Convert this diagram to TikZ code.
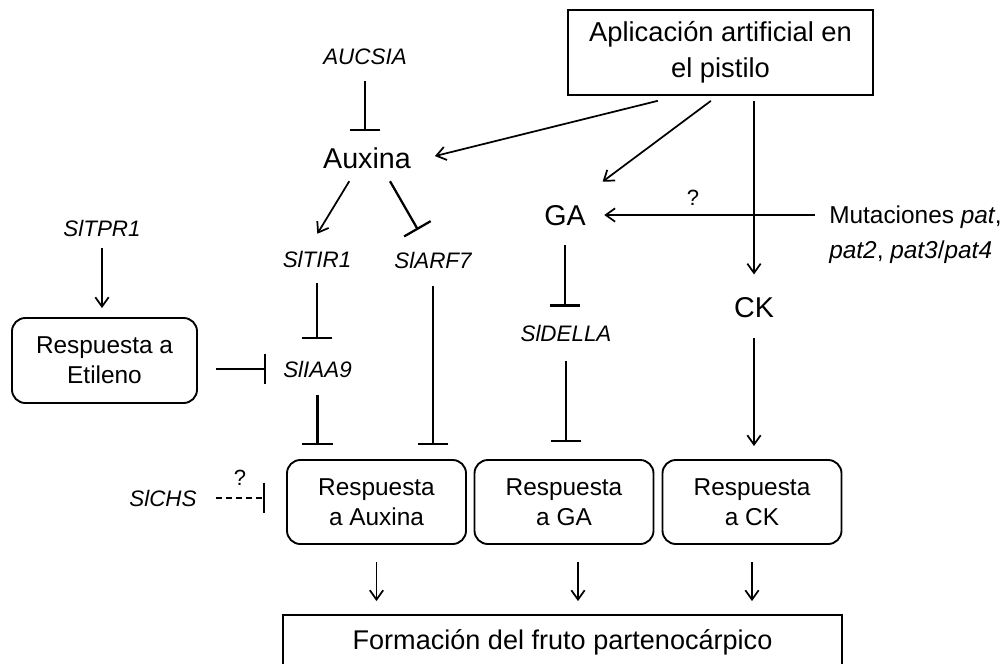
\documentclass[tikz,border=0pt]{standalone}
\usepackage{fontspec}
\setmainfont{Liberation Sans}
\usetikzlibrary{arrows.meta}
\tikzset{
	sqbox/.style  ={rectangle, draw=black, line width=1.4pt, align=center, inner sep=0pt},
	respbox/.style={rectangle, rounded corners=10pt, draw=black, line width=1.4pt, align=center, inner sep=0pt, minimum width=134.25pt, minimum height=63pt, font=\fontsize{18.3}{22.5}\selectfont},
	gene/.style   ={inner sep=0pt, text height=12pt, text depth=0pt, font=\fontsize{16.8}{20}\selectfont\itshape},
	horm/.style   ={inner sep=0pt, text height=15.4pt, text depth=0pt, font=\fontsize{21.5}{26}\selectfont},
	qmark/.style  ={inner sep=0pt, font=\fontsize{16.5}{19}\selectfont},
	act/.style    ={-{Straight Barb[length=7pt, width=10pt]}, line width=1.3pt},
	inh/.style    ={-{Bar[width=23pt, line width=1.7pt]}, line width=1.7pt},
}
\begin{document}
\begin{tikzpicture}[x=0.75pt, y=-0.75pt]
	\useasboundingbox (0,0) rectangle (1005,663);
	\node[sqbox, minimum width=228.75pt, minimum height=63.75pt, font=\fontsize{20.5}{27}\selectfont] (app) at (720.5,52.5) {Aplicación artificial en\\el pistilo};
	\node[gene] (aucsia) at (365,57) {AUCSIA};
	\node[horm] (auxina) at (367,158) {Auxina};
	\node[horm] (ga) at (565,215) {GA};
	\node[horm] (ck) at (754,307) {CK};
	\node[anchor=west, align=left, inner sep=0pt, font=\fontsize{18.3}{26}\selectfont] (mut) at (829,235) {Mutaciones \textit{pat},\\\textit{pat2}, \textit{pat3}/\textit{pat4}};
	\node[gene] (sltpr1) at (102,228) {SlTPR1};
	\node[gene] (sltir1) at (317,259) {SlTIR1};
	\node[gene] (slarf7) at (433,260) {SlARF7};
	\node[respbox, minimum width=138.75pt, minimum height=63.75pt] (etileno) at (104.5,360.5) {Respuesta a\\Etileno};
	\node[gene] (sliaa9) at (317.5,369) {SlIAA9};
	\node[gene] (sldella) at (566,333) {SlDELLA};
	\node[gene] (slchs) at (163,498) {SlCHS};
	\node[respbox] (raux) at (376.5,502) {Respuesta\\a Auxina};
	\node[respbox] (rga) at (564,502) {Respuesta\\a GA};
	\node[respbox] (rck) at (752,502) {Respuesta\\a CK};
	\node[sqbox, minimum width=419.25pt, minimum height=40.5pt, font=\fontsize{20.3}{24}\selectfont] (fruto) at (562.5,642) {Formación del fruto partenocárpico};
	\node[qmark] (q1) at (693,198) {?};
	\node[qmark] (q2) at (240,478) {?};
	\coordinate (gadown) at ([shift={(14,0)}]rga.south);
	\draw[act, shorten <=15.2pt, shorten >=18.4pt] ([shift={(-43,0)}]app.south) -- ([shift={(0,4)}]auxina.east);
	\draw[act, shorten <=6.2pt, shorten >=28.6pt] ([shift={(-3,0)}]app.south) -- ([shift={(7,0)}]ga.north);
	\draw[act, shorten <=3.75pt, shorten >=16.5pt] (app.south -| ck) -- (ck.north);
	\draw[act, shorten <=10.5pt, shorten >=13.7pt] (ga -| mut.west) -- (ga.east);
	\draw[inh, shorten <=12pt, shorten >=12pt] (aucsia.south) -- (aucsia.south |- auxina.north);
	\draw[act, shorten <=9pt, shorten >=6.75pt] (sltpr1.south) -- (sltpr1.south |- etileno.north);
	\draw[act, shorten <=11.1pt, shorten >=14.9pt] ([shift={(-10,0)}]auxina.south) -- ([shift={(-10,0)}]sltir1.north);
	\draw[inh, shorten <=11pt, shorten >=19pt] ([shift={(15.7,0)}]auxina.south) -- ([shift={(-2.4,0)}]slarf7.north);
	\draw[inh, shorten <=12pt, shorten >=16pt] (sltir1.south) -- (sltir1.south |- sliaa9.north);
	\draw[inh, shorten <=13.5pt, shorten >=12.75pt] (etileno.east |- sliaa9) -- (sliaa9.west);
	\draw[inh, shorten <=13.5pt, shorten >=10.5pt] (sliaa9.south) -- (sliaa9.south |- raux.north);
	\draw[inh, shorten <=13.5pt, shorten >=10.5pt] (slarf7.south) -- (slarf7.south |- raux.north);
	\draw[inh, shorten <=14.8pt, shorten >=13.5pt] (ga.south) -- (ga.south |- sldella.north);
	\draw[inh, shorten <=15pt, shorten >=12.75pt] (sldella.south) -- (sldella.south |- rga.north);
	\draw[act, shorten <=15.5pt, shorten >=9.75pt] (ck.south) -- (ck.south |- rck.north);
	\draw[inh, line width=1.1pt, dash pattern=on 4.5pt off 3pt, shorten <=14.6pt, shorten >=15.75pt] (slchs.east) -- (slchs.east -| raux.west);
	\draw[act, shorten <=12.75pt, shorten >=9.75pt] (raux.south) -- (raux.south |- fruto.north);
	\draw[act, shorten <=12.75pt, shorten >=9.75pt] (gadown) -- (gadown |- fruto.north);
	\draw[act, shorten <=12.75pt, shorten >=9.75pt] (rck.south) -- (rck.south |- fruto.north);
\end{tikzpicture}
\end{document}
